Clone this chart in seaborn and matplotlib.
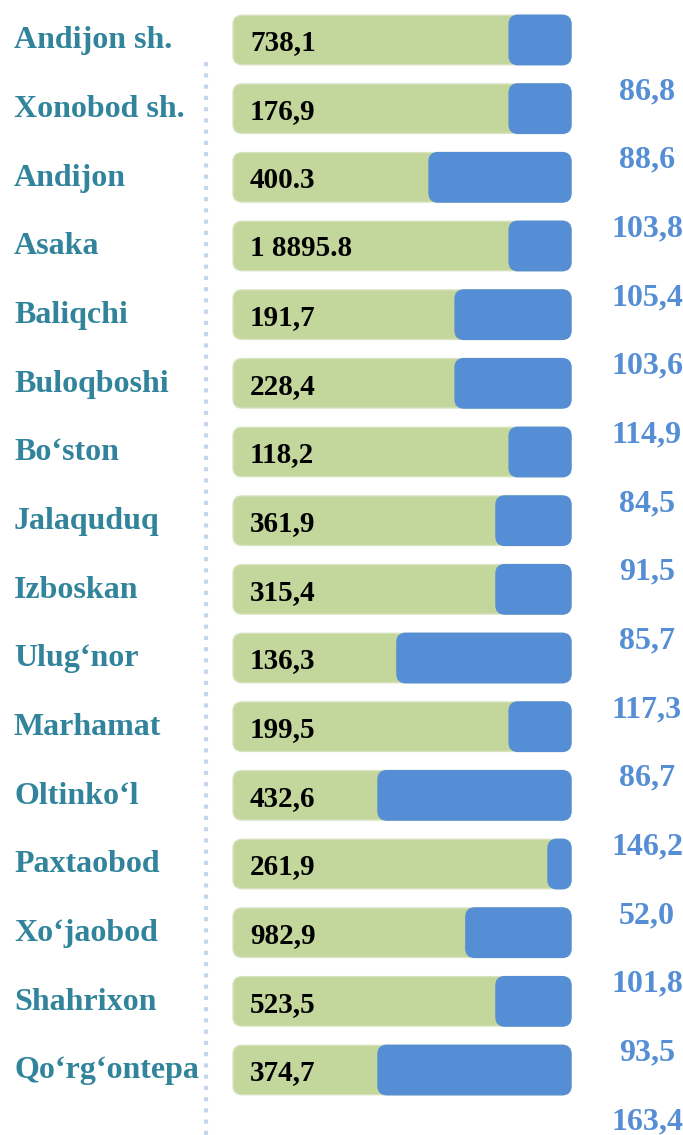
import matplotlib
matplotlib.use("Agg")
import matplotlib.pyplot as plt
from matplotlib.patches import FancyBboxPatch
import numpy as np
import pandas as pd
import seaborn as sns

regions = [
    "Andijon sh.", "Xonobod sh.", "Andijon", "Asaka", "Baliqchi",
    "Buloqboshi", "Bo\u2018ston", "Jalaquduq", "Izboskan", "Ulug\u2018nor",
    "Marhamat", "Oltinko\u2018l", "Paxtaobod", "Xo\u2018jaobod", "Shahrixon",
    "Qo\u2018rg\u2018ontepa",
]
bar_labels = [
    "738,1", "176,9", "400.3", "1 8895.8", "191,7", "228,4", "118,2", "361,9",
    "315,4", "136,3", "199,5", "432,6", "261,9", "982,9", "523,5", "374,7",
]
# share of each bar drawn in blue (percent of bar length)
blue_share = [18.3, 18.3, 42.0, 18.3, 34.3, 34.3, 18.3, 22.2,
              22.2, 51.5, 18.3, 57.1, 6.8, 31.1, 22.2, 57.1]
growth_labels = [
    "86,8", "88,6", "103,8", "105,4", "103,6", "114,9", "84,5", "91,5",
    "85,7", "117,3", "86,7", "146,2", "52,0", "101,8", "93,5", "163,4",
]

GREEN = "#c3d69b"
BLUE = "#558ed5"
TEAL = "#31849b"

df = pd.DataFrame({"region": regions, "total": 100.0, "blue": blue_share})

sns.set_theme(style="white")
plt.rcParams["font.family"] = ["Liberation Serif", "DejaVu Serif"]

fig, ax = plt.subplots(figsize=(6.83, 11.35), dpi=100)
ax.set_position([0, 0, 1, 1])

sns.barplot(data=df, x="total", y="region", color=GREEN, saturation=1,
            width=0.72, ax=ax)
n_green = len(ax.patches)
sns.barplot(data=df, x="blue", y="region", color=BLUE, saturation=1,
            width=0.72, ax=ax)

# pixel-matched limits: bar 0..100 spans x = 233..571 px, rows start at y = 40 px
px_x = 3.38
px_row = 68.7
ax.set_xlim(-233 / px_x, 450 / px_x)
ax.set_ylim(15 + 65 / px_row, -40 / px_row)

# swap the plain rectangles for rounded ones, blue aligned to the bar end
radius = 9 / px_x
aspect = (9 / px_row) / radius
rects = list(ax.patches)
for i, p in enumerate(rects):
    x, y, w, h = p.get_x(), p.get_y(), p.get_width(), p.get_height()
    is_blue = i >= n_green
    if is_blue:
        x = df["total"].iloc[i - n_green] - w
    p.remove()
    ax.add_patch(FancyBboxPatch(
        (x, y), w, h,
        boxstyle=f"round,pad=0,rounding_size={radius}",
        mutation_aspect=aspect,
        facecolor=BLUE if is_blue else GREEN,
        edgecolor=BLUE if is_blue else "#d7e3bf",
        lw=1, zorder=3 if is_blue else 2,
    ))

ytr = ax.get_yaxis_transform()
for i, (name, val) in enumerate(zip(regions, bar_labels)):
    ax.text(14 / 683, i + 0.12, name, transform=ytr, ha="left", va="baseline",
            fontsize=23, fontweight="bold", color=TEAL)
    ax.text(5.0, i + 0.15, val, ha="left", va="baseline",
            fontsize=21, fontweight="bold", color="black", zorder=4)

for i, g in enumerate(growth_labels):
    ax.text(647 / 683, i + 0.86, g, transform=ytr, ha="center", va="baseline",
            fontsize=23, fontweight="bold", color=BLUE)

ax.axvline((206 - 233) / px_x, ymin=0, ymax=1 - 57 / 1135, color="#c5d5ea",
           lw=3, linestyle=(0, (1, 1.7)), zorder=1)

ax.axis("off")
fig.savefig("out.png", dpi=100)
